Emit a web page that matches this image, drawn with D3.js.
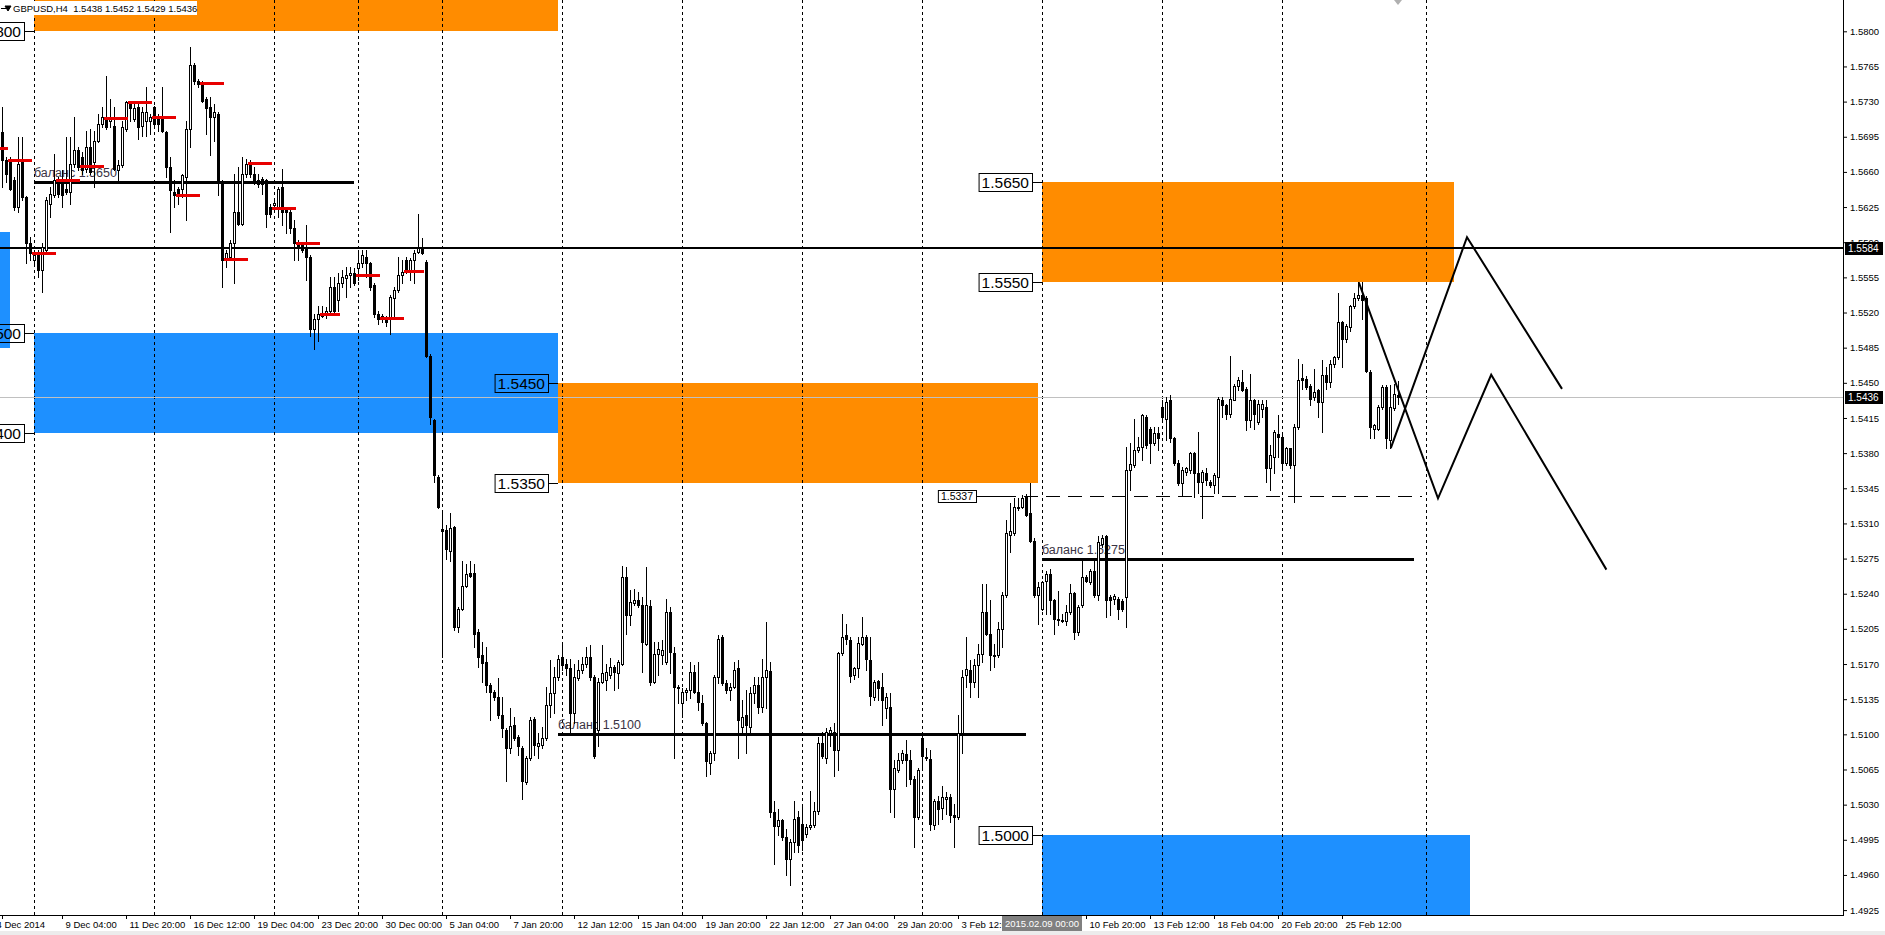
<!DOCTYPE html>
<html lang="ru">
<head>
  <meta charset="UTF-8">
  <title>GBPUSD,H4</title>
  <script src="https://d3js.org/d3.v7.min.js"></script>
  <style>
    html, body {
      margin: 0;
      padding: 0;
      background: #fff;
      overflow: hidden;
    }
    svg {
      display: block;
      font-family: "Liberation Sans", Arial, sans-serif;
    }
  </style>
</head>
<body>
  <svg id="chart" width="1885" height="935"></svg>
  <script>
    // H4 candles, prices in 1/10000 (15700 = 1.5700), first bar 4 Dec 2014 16:00
    const opens = [
      15700,15672,15672,15652,15625,15672,15635,15589,15572,15579,
      15562,15582,15628,15637,15652,15648,15643,15640,15668,15682,
      15675,15663,15685,15670,15691,15708,15715,15711,15706,15662,
      15667,15703,15730,15713,15725,15706,15711,15711,15725,15716,
      15715,15700,15665,15640,15643,15643,15655,15703,15766,15751,
      15750,15733,15725,15715,15718,15650,15574,15575,15589,15620,
      15608,15658,15668,15658,15652,15653,15652,15625,15627,15625,
      15645,15623,15620,15604,15589,15587,15584,15575,15504,15514,
      15519,15519,15522,15545,15532,15549,15554,15557,15559,15564,
      15569,15575,15569,15547,15519,15517,15516,15514,15534,15542,
      15557,15572,15560,15572,15580,15584,15570,15477,15413,15356,
      15304,15303,15283,15306,15207,15225,15248,15261,15261,15202,
      15179,15172,15149,15142,15137,15119,15104,15086,15109,15097,
      15086,15053,15076,15115,15088,15089,15096,15129,15141,15157,
      15177,15170,15166,15121,15156,15164,15170,15177,15157,15104,
      15152,15154,15159,15167,15161,15170,15257,15219,15231,15234,
      15229,15190,15228,15152,15180,15179,15172,15222,15181,15147,
      15131,15142,15144,15162,15142,15131,15111,15071,15081,15157,
      15197,15151,15144,15147,15166,15107,15119,15107,15141,15149,
      15127,15157,15163,15023,15009,15015,14998,14976,14993,15018,
      15011,15001,15008,15010,15024,15091,15076,15101,15102,15084,
      15181,15199,15194,15159,15166,15190,15197,15174,15137,15153,
      15147,15126,15127,15046,15064,15074,15080,15074,15056,15018,
      15096,15077,15075,15010,15034,15027,15036,15038,15020,15018,
      15101,15159,15164,15152,15169,15180,15222,15200,15179,15179,
      15205,15239,15298,15300,15325,15326,15336,15320,15293,15239,
      15225,15253,15260,15234,15215,15214,15213,15222,15241,15202,
      15229,15257,15252,15263,15239,15290,15297,15237,15235,15235,
      15233,15237,15363,15368,15383,15386,15416,15404,15390,15400,
      15426,15414,15433,15395,15370,15350,15361,15363,15380,15360,
      15351,15360,15351,15348,15356,15433,15428,15419,15433,15447,
      15451,15444,15413,15433,15411,15424,15426,15365,15376,15399,
      15396,15370,15385,15368,15406,15455,15454,15447,15436,15443,
      15431,15458,15451,15469,15476,15511,15494,15506,15526,15534,
      15537,15534,15461,15404,15404,15426,15446,15393,15425,15438
    ];
    const highs = [
      15725,15675,15675,15655,15695,15695,15636,15595,15582,15582,
      15589,15635,15645,15678,15655,15662,15695,15695,15715,15685,
      15680,15701,15703,15701,15718,15725,15755,15733,15725,15672,
      15711,15731,15731,15728,15731,15725,15745,15718,15726,15718,
      15745,15701,15675,15652,15645,15658,15711,15784,15768,15753,
      15751,15735,15735,15728,15720,15652,15582,15592,15658,15665,
      15675,15673,15672,15665,15658,15655,15653,15628,15632,15645,
      15663,15625,15625,15612,15592,15589,15607,15577,15519,15526,
      15526,15525,15555,15555,15559,15562,15565,15565,15564,15582,
      15582,15582,15570,15549,15522,15519,15517,15537,15545,15575,
      15572,15575,15574,15582,15618,15594,15572,15479,15414,15358,
      15320,15308,15320,15307,15227,15273,15270,15273,15270,15205,
      15192,15187,15151,15144,15156,15137,15106,15126,15117,15099,
      15088,15078,15117,15117,15101,15107,15147,15174,15167,15179,
      15192,15175,15175,15170,15174,15177,15187,15189,15159,15156,
      15189,15170,15176,15169,15174,15268,15267,15244,15245,15242,
      15237,15267,15234,15192,15192,15194,15235,15227,15187,15149,
      15146,15146,15172,15169,15172,15139,15112,15083,15159,15199,
      15199,15154,15151,15172,15174,15134,15144,15147,15157,15157,
      15175,15212,15172,15034,15026,15016,15006,14996,15034,15024,
      15031,15011,15044,15033,15097,15102,15106,15107,15111,15182,
      15220,15210,15197,15167,15197,15217,15199,15197,15154,15154,
      15161,15141,15141,15074,15081,15084,15094,15084,15059,15066,
      15101,15086,15084,15036,15039,15049,15043,15041,15031,15119,
      15164,15197,15174,15175,15190,15250,15250,15234,15190,15212,
      15242,15313,15330,15335,15335,15338,15339,15350,15295,15252,
      15253,15263,15265,15235,15243,15220,15229,15250,15242,15229,
      15273,15259,15265,15273,15297,15298,15298,15239,15240,15237,
      15235,15386,15390,15414,15396,15419,15418,15406,15406,15406,
      15433,15436,15438,15396,15373,15366,15366,15381,15381,15401,
      15363,15365,15353,15360,15436,15436,15429,15477,15449,15456,
      15463,15446,15459,15434,15433,15433,15433,15388,15403,15418,
      15398,15386,15385,15409,15474,15469,15457,15449,15464,15444,
      15473,15466,15473,15477,15539,15512,15509,15527,15539,15550,
      15550,15536,15463,15409,15428,15448,15448,15448,15449,15452
    ];
    const lows = [
      15645,15650,15642,15622,15620,15632,15569,15572,15569,15555,
      15540,15580,15615,15635,15635,15625,15638,15628,15665,15662,
      15658,15660,15658,15645,15690,15705,15703,15705,15662,15652,
      15665,15701,15711,15711,15693,15696,15696,15698,15705,15701,
      15700,15655,15600,15625,15628,15635,15612,15685,15748,15745,
      15730,15698,15677,15691,15637,15545,15565,15572,15549,15607,
      15607,15655,15655,15648,15645,15638,15605,15615,15622,15615,
      15607,15599,15599,15572,15572,15580,15552,15497,15484,15492,
      15516,15515,15521,15521,15522,15545,15535,15545,15547,15552,
      15565,15555,15542,15516,15509,15511,15507,15499,15516,15540,
      15549,15559,15552,15549,15579,15578,15476,15409,15351,15325,
      15177,15275,15273,15204,15202,15224,15247,15257,15187,15167,
      15152,15142,15114,15134,15116,15097,15054,15081,15094,15079,
      15036,15051,15074,15079,15076,15086,15094,15117,15121,15154,
      15164,15159,15099,15111,15154,15161,15167,15154,15076,15088,
      15151,15144,15156,15144,15146,15169,15200,15209,15229,15227,
      15162,15189,15149,15151,15159,15170,15170,15161,15076,15131,
      15117,15134,15136,15141,15124,15109,15059,15061,15074,15151,
      15149,15141,15134,15146,15076,15101,15081,15101,15131,15121,
      15122,15126,15018,14971,15000,14995,14960,14950,14983,14983,
      14985,14998,15006,15008,15021,15076,15071,15088,15059,15064,
      15179,15190,15152,15155,15157,15189,15164,15129,15134,15134,
      15109,15116,15023,15018,15063,15071,15049,15051,14988,15016,
      15064,15074,15005,15006,15011,15016,15021,15013,14988,15016,
      15081,15147,15137,15147,15137,15172,15199,15164,15167,15177,
      15187,15237,15282,15298,15323,15325,15317,15292,15237,15210,
      15224,15220,15220,15200,15209,15212,15209,15220,15195,15199,
      15227,15252,15250,15237,15234,15287,15217,15219,15230,15215,
      15223,15207,15343,15366,15381,15373,15385,15370,15388,15383,
      15411,15393,15391,15368,15348,15338,15358,15360,15336,15340,
      15315,15348,15346,15340,15340,15416,15414,15416,15433,15443,
      15442,15403,15406,15404,15409,15416,15351,15343,15360,15376,
      15366,15368,15365,15331,15404,15444,15444,15428,15433,15416,
      15401,15444,15446,15466,15474,15466,15491,15502,15524,15532,
      15514,15461,15395,15395,15403,15424,15385,15385,15423,15429
    ];
    const closes = [
      15672,15658,15643,15625,15668,15635,15589,15579,15577,15562,
      15585,15632,15638,15652,15638,15637,15640,15668,15682,15665,
      15662,15685,15660,15691,15708,15715,15705,15715,15663,15667,
      15705,15730,15724,15724,15705,15720,15720,15715,15708,15708,
      15701,15665,15642,15637,15637,15657,15703,15766,15751,15748,
      15731,15724,15715,15720,15650,15572,15579,15589,15620,15608,
      15658,15668,15658,15650,15648,15648,15618,15618,15629,15643,
      15620,15620,15604,15589,15584,15582,15575,15504,15514,15519,
      15517,15522,15545,15522,15549,15555,15557,15559,15549,15569,
      15577,15569,15545,15519,15514,15514,15511,15535,15542,15557,
      15560,15560,15572,15579,15584,15579,15477,15416,15358,15326,
      15302,15285,15305,15207,15225,15248,15260,15258,15200,15177,
      15171,15149,15142,15137,15119,15106,15086,15108,15096,15088,
      15054,15076,15114,15089,15091,15096,15129,15141,15157,15175,
      15169,15166,15121,15157,15164,15170,15177,15157,15078,15152,
      15161,15162,15167,15162,15172,15257,15219,15232,15234,15229,
      15192,15229,15152,15180,15185,15184,15222,15182,15147,15146,
      15142,15144,15162,15142,15132,15111,15073,15081,15157,15195,
      15151,15144,15147,15164,15114,15117,15109,15141,15149,15127,
      15157,15164,15023,15009,15015,14998,14976,14993,15016,14990,
      14995,15008,15010,15024,15091,15078,15102,15104,15084,15181,
      15197,15195,15158,15166,15191,15197,15175,15138,15152,15146,
      15134,15137,15046,15066,15074,15081,15074,15056,15018,15064,
      15078,15076,15011,15034,15026,15038,15038,15020,15018,15101,
      15157,15165,15152,15169,15180,15222,15200,15179,15178,15205,
      15239,15300,15302,15326,15326,15335,15318,15293,15239,15247,
      15252,15260,15234,15215,15214,15213,15222,15241,15202,15227,
      15257,15253,15263,15239,15292,15295,15234,15234,15238,15225,
      15225,15363,15369,15383,15386,15418,15388,15390,15400,15395,
      15416,15431,15395,15370,15350,15363,15365,15380,15360,15351,
      15361,15353,15348,15358,15434,15428,15419,15434,15447,15453,
      15443,15413,15433,15419,15429,15429,15365,15378,15401,15396,
      15370,15385,15368,15406,15453,15453,15446,15434,15441,15431,
      15458,15451,15469,15476,15511,15494,15507,15526,15534,15537,
      15532,15462,15406,15408,15426,15446,15395,15426,15439,15436
    ];

    const priceTicks = ['1.4925','1.4960','1.4995','1.5030','1.5065','1.5100','1.5135','1.5170','1.5205',
      '1.5240','1.5275','1.5310','1.5345','1.5380','1.5415','1.5450','1.5485','1.5520','1.5555',
      '1.5590','1.5625','1.5660','1.5695','1.5730','1.5765','1.5800'];

    const timeLabels = ['4 Dec 2014','9 Dec 04:00','11 Dec 20:00','16 Dec 12:00','19 Dec 04:00','23 Dec 20:00',
      '30 Dec 00:00','5 Jan 04:00','7 Jan 20:00','12 Jan 12:00','15 Jan 04:00','19 Jan 20:00','22 Jan 12:00',
      '27 Jan 04:00','29 Jan 20:00','3 Feb 12:00','6 Feb 04:00','10 Feb 20:00','13 Feb 12:00','18 Feb 04:00',
      '20 Feb 20:00','25 Feb 12:00'];
    const timeLabelBars = [0,15,31,47,63,79,95,111,127,143,159,175,191,207,223,239,255,271,287,303,319,335];

    // weekly period separators (Monday 00:00) and a user vertical line
    const separatorBars = [8,38,68,89,110,140,170,200,230,260,290,320];
    const vlineBars = [356];

    // supply / demand rectangles
    const zoneKind = ['supply','demand','demand','supply','supply','demand'];
    const zoneFrom = [8,-10,8,139,260,260];
    const zoneTo = [139,2,139,259,363,367];
    const zoneHigh = [1.5900,1.5600,1.5500,1.5450,1.5650,1.5000];
    const zoneLow = [1.5800,1.5485,1.5400,1.5350,1.5550,1.4850];

    // left price labels
    const levelLabels = [1.5800,1.5500,1.5400,1.5450,1.5350,1.5650,1.5550,1.5000];
    const levelLabelBars = [8,8,8,139,139,260,260,260];

    // "баланс" levels
    const balanceLevels = [1.5650,1.5100,1.5275];
    const balanceFrom = [8,139,260];
    const balanceTo = [88,256,353];

    const resistance = 1.5584;
    const bid = 1.5436;
    const dashedLevel = 1.5337;
    const dashedFrom = 250, dashedTo = 355;

    // daily red marks: first bar, bars in day, price
    const markStart = [-4,2,8,14,20,26,32,38,44,50,56,62,68,74,80,89,95,101];
    const markLen = [6,6,6,6,6,6,6,6,6,6,6,6,6,6,5,6,6,5];
    const markPrice = [15684,15672,15579,15652,15666,15714,15730,15715,15637,15749,15573,15669,15624,15589,15519,15557,15515,15561];

    // projected zigzags (bar, price)
    const zigA = [[339.2,1.5550],[359.0,1.5335],[372.3,1.5458],[401.1,1.5264]];
    const zigB = [[347.2,1.5385],[366.25,1.5595],[390.0,1.5444]];

    const header = 'GBPUSD,H4  1.5438 1.5452 1.5429 1.5436';
    const cursorTime = '2015.02.09 00:00';
    const cursorBar = 260;

    // ---------------------------------------------------------------
    const svg = d3.select('#chart');
    const plotRight = 1843, plotBottom = 915;
    const pip = v => v / 10000;

    const x = d3.scaleLinear().domain([0, 460]).range([2, 1842]);
    const y = d3.scaleLinear().domain([1.4925, 1.5800]).range([910.1, 31.3]);
    const ry = v => Math.round(y(v));

    svg.append('rect').attr('width', 1885).attr('height', 935).attr('fill', '#fff');

    svg.append('clipPath').attr('id', 'plotclip')
      .append('rect').attr('width', plotRight).attr('height', plotBottom);
    const plot = svg.append('g').attr('clip-path', 'url(#plotclip)');

    // zones
    const zones = zoneKind.map((k, i) => ({k, from: zoneFrom[i], to: zoneTo[i], hi: zoneHigh[i], lo: zoneLow[i]}));
    plot.selectAll('rect.zone').data(zones).join('rect')
      .attr('class', 'zone')
      .attr('shape-rendering', 'crispEdges')
      .attr('x', d => x(d.from))
      .attr('width', d => x(d.to) - x(d.from))
      .attr('y', d => ry(d.hi))
      .attr('height', d => ry(d.lo) - ry(d.hi))
      .attr('fill', d => d.k === 'supply' ? '#ff8c00' : '#1e90ff');

    // separators
    plot.selectAll('line.sep').data(separatorBars.concat(vlineBars)).join('line')
      .attr('class', 'sep')
      .attr('x1', d => x(d) + 0.5).attr('x2', d => x(d) + 0.5)
      .attr('y1', 0).attr('y2', plotBottom)
      .attr('stroke', '#000').attr('stroke-width', 1)
      .attr('stroke-dasharray', '3,3');

    // bid line
    plot.append('line')
      .attr('x1', 0).attr('x2', plotRight)
      .attr('y1', ry(bid) + 0.5).attr('y2', ry(bid) + 0.5)
      .attr('stroke', '#c0c0c0').attr('stroke-width', 1);

    // balance levels
    const balance = balanceLevels.map((v, i) => ({v, from: balanceFrom[i], to: balanceTo[i]}));
    plot.selectAll('text.bal').data(balance).join('text')
      .attr('class', 'bal')
      .attr('x', d => x(d.from))
      .attr('y', d => ry(d.v) - 5)
      .attr('font-size', 12.5)
      .attr('fill', '#3a3344')
      .text(d => 'баланс ' + d.v.toFixed(4));
    plot.selectAll('line.bal').data(balance).join('line')
      .attr('class', 'bal')
      .attr('x1', d => x(d.from)).attr('x2', d => x(d.to))
      .attr('y1', d => ry(d.v) + 0.5).attr('y2', d => ry(d.v) + 0.5)
      .attr('stroke', '#000').attr('stroke-width', 3);

    // resistance line
    plot.append('line')
      .attr('x1', 0).attr('x2', plotRight)
      .attr('y1', ry(resistance)).attr('y2', ry(resistance))
      .attr('stroke', '#000').attr('stroke-width', 2);

    // dashed level with its label
    plot.append('line')
      .attr('x1', x(dashedFrom)).attr('x2', x(dashedTo))
      .attr('y1', ry(dashedLevel) + 0.5).attr('y2', ry(dashedLevel) + 0.5)
      .attr('stroke', '#000').attr('stroke-width', 1)
      .attr('stroke-dasharray', '14,8');
    const dl = plot.append('g');
    const dlText = dl.append('text')
      .attr('x', x(dashedFrom) - 29).attr('y', ry(dashedLevel) + 4)
      .attr('text-anchor', 'end').attr('font-size', 10.5).attr('fill', '#000')
      .text(dashedLevel.toFixed(4));
    const dlW = dlText.node().getComputedTextLength();
    dl.append('rect')
      .attr('x', x(dashedFrom) - 26 - dlW - 6 + 0.5).attr('y', ry(dashedLevel) - 6 + 0.5)
      .attr('width', dlW + 6).attr('height', 12)
      .attr('fill', 'none').attr('stroke', '#000');
    dl.append('line')
      .attr('x1', x(dashedFrom) - 26).attr('x2', x(dashedFrom))
      .attr('y1', ry(dashedLevel) + 0.5).attr('y2', ry(dashedLevel) + 0.5)
      .attr('stroke', '#000');

    // candles
    const candles = opens.map((o, i) => ({
      i, o: pip(o), h: pip(highs[i]), l: pip(lows[i]), c: pip(closes[i])
    }));
    plot.selectAll('line.wick').data(candles).join('line')
      .attr('class', 'wick')
      .attr('x1', d => x(d.i) + 0.5).attr('x2', d => x(d.i) + 0.5)
      .attr('y1', d => ry(Math.max(d.h, d.o, d.c)))
      .attr('y2', d => ry(Math.min(d.l, d.o, d.c)) + 1)
      .attr('stroke', '#000').attr('stroke-width', 1);
    plot.selectAll('rect.body').data(candles).join('rect')
      .attr('class', 'body')
      .attr('shape-rendering', 'crispEdges')
      .each(function (d) {
        const top = ry(Math.max(d.o, d.c));
        const bot = ry(Math.min(d.o, d.c));
        const el = d3.select(this);
        if (d.c >= d.o) {
          el.attr('x', x(d.i) - 0.5).attr('width', 2)
            .attr('y', top + 0.5).attr('height', Math.max(0, bot - top))
            .attr('fill', '#fff').attr('stroke', '#000').attr('stroke-width', 1);
        } else {
          el.attr('x', x(d.i) - 1).attr('width', 3)
            .attr('y', top).attr('height', Math.max(1, bot - top + 1))
            .attr('fill', '#000');
        }
      });

    // daily red marks
    const marks = markStart.map((s, i) => ({s, n: markLen[i], p: pip(markPrice[i])}));
    plot.selectAll('rect.mark').data(marks).join('rect')
      .attr('class', 'mark')
      .attr('x', d => x(d.s) - 2)
      .attr('width', d => x(d.s + d.n) - x(d.s))
      .attr('y', d => ry(d.p) - 1)
      .attr('height', 3)
      .attr('fill', '#e80000');

    // zigzags
    const zig = d3.line().x(d => x(d[0])).y(d => y(d[1]));
    plot.selectAll('path.zig').data([zigA, zigB]).join('path')
      .attr('class', 'zig')
      .attr('d', zig)
      .attr('fill', 'none').attr('stroke', '#000').attr('stroke-width', 2)
      .attr('stroke-linejoin', 'miter');

    // left price labels
    const lab = plot.selectAll('g.lvl').data(levelLabels.map((v, i) => ({v, b: levelLabelBars[i]}))).join('g')
      .attr('class', 'lvl');
    lab.each(function (d) {
      const g = d3.select(this);
      const tip = x(d.b);
      const right = tip - 10;
      const cy = ry(d.v);
      const t = g.append('text')
        .attr('x', right - 3).attr('y', cy + 5.5)
        .attr('text-anchor', 'end').attr('font-size', 15.5).attr('fill', '#000')
        .text(d.v.toFixed(4));
      const w = t.node().getComputedTextLength();
      g.append('rect')
        .attr('x', right - w - 6 + 0.5).attr('y', cy - 9 + 0.5)
        .attr('width', w + 6).attr('height', 18)
        .attr('fill', 'none').attr('stroke', '#000');
      g.append('line')
        .attr('x1', right).attr('x2', tip)
        .attr('y1', cy + 0.5).attr('y2', cy + 0.5)
        .attr('stroke', '#000');
    });

    // axes
    const axisFont = 9.5;
    svg.append('line')
      .attr('x1', plotRight + 0.5).attr('x2', plotRight + 0.5)
      .attr('y1', 0).attr('y2', plotBottom + 1)
      .attr('stroke', '#000');
    svg.append('line')
      .attr('x1', 0).attr('x2', plotRight)
      .attr('y1', plotBottom + 0.5).attr('y2', plotBottom + 0.5)
      .attr('stroke', '#000');

    const yAxis = d3.axisRight(y)
      .tickValues(priceTicks.map(Number))
      .tickFormat(d3.format('.4f'))
      .tickSize(4).tickSizeOuter(0).tickPadding(3);
    svg.append('g')
      .attr('transform', `translate(${plotRight},0)`)
      .call(yAxis)
      .call(g => g.select('.domain').remove())
      .call(g => g.selectAll('text').attr('font-size', axisFont).attr('font-family', '"Liberation Sans", Arial, sans-serif').attr('fill', '#000'));

    const xAxis = d3.axisBottom(x)
      .tickValues(timeLabelBars)
      .tickFormat((d, i) => timeLabels[i])
      .tickSize(4).tickSizeOuter(0).tickPadding(2);
    svg.append('g')
      .attr('transform', `translate(0,${plotBottom})`)
      .call(xAxis)
      .call(g => g.select('.domain').remove())
      .call(g => g.selectAll('text')
        .attr('text-anchor', 'start')
        .attr('dx', (d, i) => i === 0 ? -6 : 3)
        .attr('font-size', axisFont)
        .attr('font-family', '"Liberation Sans", Arial, sans-serif')
        .attr('fill', '#000'));

    // price boxes on the right axis
    svg.selectAll('g.pbox').data([resistance, bid]).join('g')
      .attr('class', 'pbox')
      .each(function (v) {
        const g = d3.select(this);
        const cy = ry(v);
        g.append('rect')
          .attr('x', plotRight + 2).attr('y', cy - 6)
          .attr('width', 38).attr('height', 13)
          .attr('fill', '#000');
        g.append('text')
          .attr('x', plotRight + 5).attr('y', cy + 4)
          .attr('font-size', 10).attr('fill', '#fff')
          .text(v.toFixed(4));
      });

    // cursor time box
    const cx = x(cursorBar);
    svg.append('rect')
      .attr('x', cx - 40).attr('y', plotBottom + 1)
      .attr('width', 80).attr('height', 15)
      .attr('fill', '#808080');
    svg.append('text')
      .attr('x', cx).attr('y', plotBottom + 12)
      .attr('text-anchor', 'middle').attr('font-size', axisFont).attr('fill', '#fff')
      .text(cursorTime);

    svg.append('rect')
      .attr('x', 0).attr('y', 931).attr('width', 1885).attr('height', 4)
      .attr('fill', '#ececec');

    // shift marker
    svg.append('path')
      .attr('d', `M${x(349) - 4},0 L${x(349) + 4},0 L${x(349)},5 Z`)
      .attr('fill', '#b0b0b0');

    // header
    svg.append('rect').attr('x', 11).attr('y', 1).attr('width', 186).attr('height', 14).attr('fill', '#fff');
    svg.append('path').attr('d', 'M1,8.5 L6,8.5 M5,6 L11,6 L8,11 Z')
      .attr('stroke', '#000').attr('fill', '#000');
    svg.append('text')
      .attr('x', 13).attr('y', 12)
      .attr('font-size', 9.5).attr('fill', '#000')
      .attr('xml:space', 'preserve')
      .style('white-space', 'pre')
      .text(header);

    const n = opens.length;
    if (highs.length !== n || lows.length !== n || closes.length !== n) {
      svg.append('text').attr('x', 600).attr('y', 40).attr('fill', 'red').attr('font-size', 20)
        .text(`length mismatch ${n} ${highs.length} ${lows.length} ${closes.length}`);
    }
  </script>
</body>
</html>
